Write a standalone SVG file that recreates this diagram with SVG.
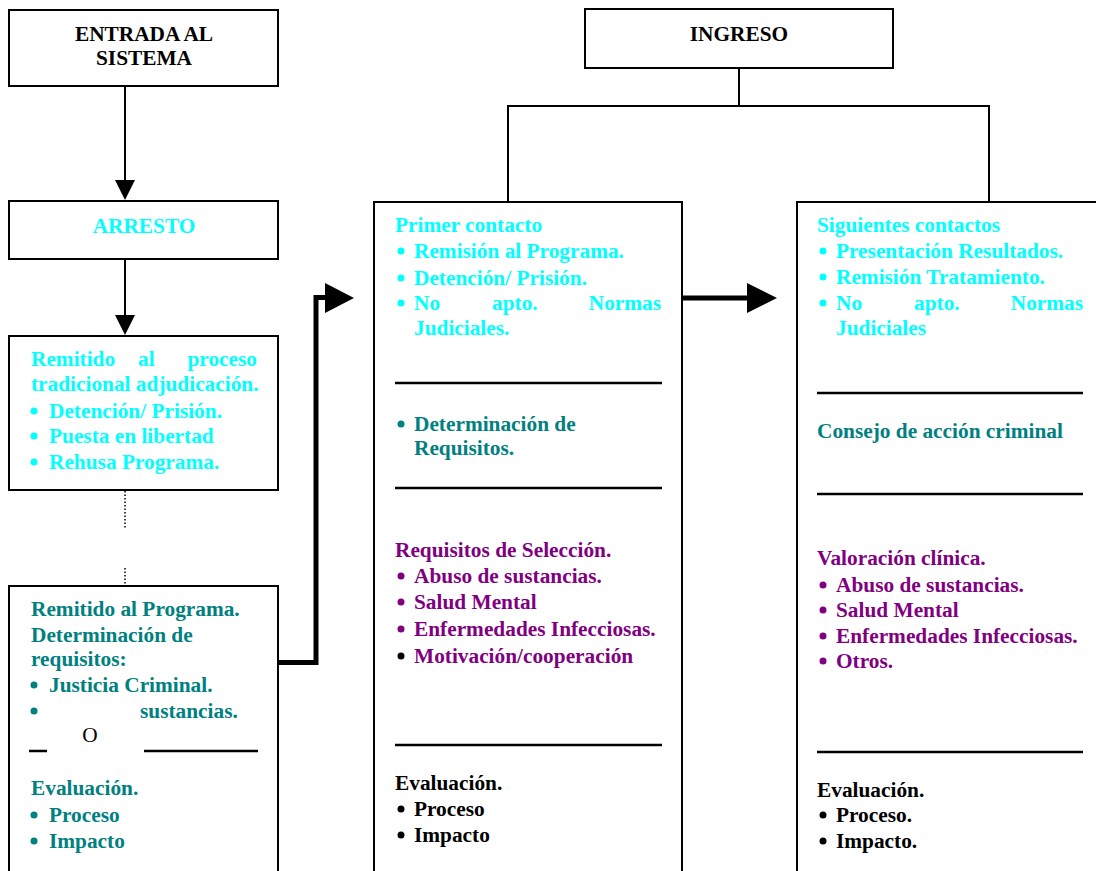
<svg xmlns="http://www.w3.org/2000/svg" width="1096" height="871" viewBox="0 0 1096 871">
<style>
  .box{fill:#fff;stroke:#000;stroke-width:2}
  .t{font-family:"Liberation Serif","Times New Roman",serif;font-size:21.33px;font-weight:bold}
  .k{fill:#000}
  .c{fill:#00FFFF}
  .g{fill:#008080}
  .p{fill:#800080}
  .sep{stroke:#000;stroke-width:2.5}
  .thin{stroke:#000;stroke-width:2;fill:none}
  .thick{stroke:#000;stroke-width:5;fill:none}
  .dot{stroke:#000;stroke-width:1.5;stroke-dasharray:1.5 2;fill:none}
</style>
<rect width="1096" height="871" fill="#fff"/>
<g id="connectors">
  <line class="thin" x1="125" y1="86" x2="125" y2="182"/>
  <polygon points="115,180 135,180 125,200" fill="#000"/>
  <line class="thin" x1="125" y1="259" x2="125" y2="317"/>
  <polygon points="115,315 135,315 125,335" fill="#000"/>
  <line class="dot" x1="125" y1="491" x2="125" y2="528"/>
  <line class="dot" x1="125" y1="568" x2="125" y2="585"/>
  <path class="thick" d="M278,662.5 H316 V297.5 H327"/>
  <polygon points="325,283 354,298 325,313" fill="#000"/>
  <line class="thick" x1="682" y1="298" x2="749" y2="298"/>
  <polygon points="747,283 777,298 747,313" fill="#000"/>
  <line class="thin" x1="739" y1="68" x2="739" y2="106"/>
  <path class="thin" d="M508,202 V106 H989 V202"/>
</g>
<g id="entrada">
  <rect class="box" x="9" y="10" width="269" height="76"/>
  <text class="t k" x="144" y="41" text-anchor="middle">ENTRADA AL</text>
  <text class="t k" x="144" y="65" text-anchor="middle">SISTEMA</text>
</g>
<g id="arresto">
  <rect class="box" x="9" y="201" width="269" height="58"/>
  <text class="t c" x="144" y="233" text-anchor="middle">ARRESTO</text>
</g>
<g id="tradicional">
  <rect class="box" x="9" y="336" width="269" height="154"/>
  <text class="t c" x="31" y="366">Remitido</text>
  <text class="t c" x="138" y="366">al</text>
  <text class="t c" x="257" y="366" text-anchor="end">proceso</text>
  <text class="t c" x="31" y="391">tradicional adjudicación.</text>
  <circle class="c" cx="34" cy="411" r="3.5"/>
  <text class="t c" x="49" y="418">Detención/ Prisión.</text>
  <circle class="c" cx="34" cy="436" r="3.5"/>
  <text class="t c" x="49" y="443">Puesta en libertad</text>
  <circle class="c" cx="34" cy="462" r="3.5"/>
  <text class="t c" x="49" y="469">Rehusa Programa.</text>
</g>
<g id="programa">
  <rect class="box" x="9" y="586" width="269" height="320"/>
  <text class="t g" x="31" y="616">Remitido al Programa.</text>
  <text class="t g" x="31" y="642">Determinación de</text>
  <text class="t g" x="31" y="666">requisitos:</text>
  <circle class="g" cx="34" cy="685" r="3.5"/>
  <text class="t g" x="49" y="692">Justicia Criminal.</text>
  <circle class="g" cx="34" cy="711" r="3.5"/>
  <text class="t g" x="140" y="718">sustancias.</text>
  <text x="90" y="742" text-anchor="middle" font-family="Liberation Serif, Times New Roman, serif" font-size="21.33" fill="#000">O</text>
  <line class="sep" x1="29" y1="751" x2="47" y2="751"/>
  <line class="sep" x1="144" y1="751" x2="258" y2="751"/>
  <text class="t g" x="31" y="795">Evaluación.</text>
  <circle class="g" cx="34" cy="815" r="3.5"/>
  <text class="t g" x="49" y="822">Proceso</text>
  <circle class="g" cx="34" cy="841" r="3.5"/>
  <text class="t g" x="49" y="848">Impacto</text>
</g>
<g id="ingreso">
  <rect class="box" x="585" y="9" width="308" height="59"/>
  <text class="t k" x="739" y="41" text-anchor="middle">INGRESO</text>
</g>
<g id="primer">
  <rect class="box" x="374" y="202" width="308" height="700"/>
  <text class="t c" x="395" y="232">Primer contacto</text>
  <circle class="c" cx="401" cy="251" r="3.5"/>
  <text class="t c" x="414" y="258">Remisión al Programa.</text>
  <circle class="c" cx="401" cy="278" r="3.5"/>
  <text class="t c" x="414" y="285">Detención/ Prisión.</text>
  <circle class="c" cx="401" cy="303" r="3.5"/>
  <text class="t c" x="414" y="310">No</text>
  <text class="t c" x="492" y="310">apto.</text>
  <text class="t c" x="661" y="310" text-anchor="end">Normas</text>
  <text class="t c" x="414" y="335">Judiciales.</text>
  <line class="sep" x1="395" y1="383" x2="662" y2="383"/>
  <circle class="g" cx="401" cy="424" r="3.5"/>
  <text class="t g" x="414" y="431">Determinación de</text>
  <text class="t g" x="414" y="455">Requisitos.</text>
  <line class="sep" x1="395" y1="488" x2="662" y2="488"/>
  <text class="t p" x="395" y="557">Requisitos de Selección.</text>
  <circle class="p" cx="401" cy="576" r="3.5"/>
  <text class="t p" x="414" y="583">Abuso de sustancias.</text>
  <circle class="p" cx="401" cy="602" r="3.5"/>
  <text class="t p" x="414" y="609">Salud Mental</text>
  <circle class="p" cx="401" cy="629" r="3.5"/>
  <text class="t p" x="414" y="636">Enfermedades Infecciosas.</text>
  <circle class="k" cx="401" cy="656" r="3.5"/>
  <text class="t p" x="414" y="663">Motivación/cooperación</text>
  <line class="sep" x1="395" y1="745" x2="662" y2="745"/>
  <text class="t k" x="395" y="790">Evaluación.</text>
  <circle class="k" cx="401" cy="809" r="3.5"/>
  <text class="t k" x="414" y="816">Proceso</text>
  <circle class="k" cx="401" cy="835" r="3.5"/>
  <text class="t k" x="414" y="842">Impacto</text>
</g>
<g id="siguientes">
  <rect class="box" x="797" y="202" width="320" height="700"/>
  <text class="t c" x="817" y="232">Siguientes contactos</text>
  <circle class="c" cx="823" cy="251" r="3.5"/>
  <text class="t c" x="836" y="258">Presentación Resultados.</text>
  <circle class="c" cx="823" cy="277" r="3.5"/>
  <text class="t c" x="836" y="284">Remisión Tratamiento.</text>
  <circle class="c" cx="823" cy="303" r="3.5"/>
  <text class="t c" x="836" y="310">No</text>
  <text class="t c" x="914" y="310">apto.</text>
  <text class="t c" x="1083" y="310" text-anchor="end">Normas</text>
  <text class="t c" x="836" y="335">Judiciales</text>
  <line class="sep" x1="817" y1="393" x2="1083" y2="393"/>
  <text class="t g" x="817" y="438">Consejo de acción criminal</text>
  <line class="sep" x1="817" y1="494" x2="1083" y2="494"/>
  <text class="t p" x="817" y="565">Valoración clínica.</text>
  <circle class="p" cx="823" cy="585" r="3.5"/>
  <text class="t p" x="836" y="592">Abuso de sustancias.</text>
  <circle class="p" cx="823" cy="610" r="3.5"/>
  <text class="t p" x="836" y="617">Salud Mental</text>
  <circle class="p" cx="823" cy="636" r="3.5"/>
  <text class="t p" x="836" y="643">Enfermedades Infecciosas.</text>
  <circle class="p" cx="823" cy="661" r="3.5"/>
  <text class="t p" x="836" y="668">Otros.</text>
  <line class="sep" x1="817" y1="752" x2="1083" y2="752"/>
  <text class="t k" x="817" y="797">Evaluación.</text>
  <circle class="k" cx="823" cy="815" r="3.5"/>
  <text class="t k" x="836" y="822">Proceso.</text>
  <circle class="k" cx="823" cy="841" r="3.5"/>
  <text class="t k" x="836" y="848">Impacto.</text>
</g>
</svg>
